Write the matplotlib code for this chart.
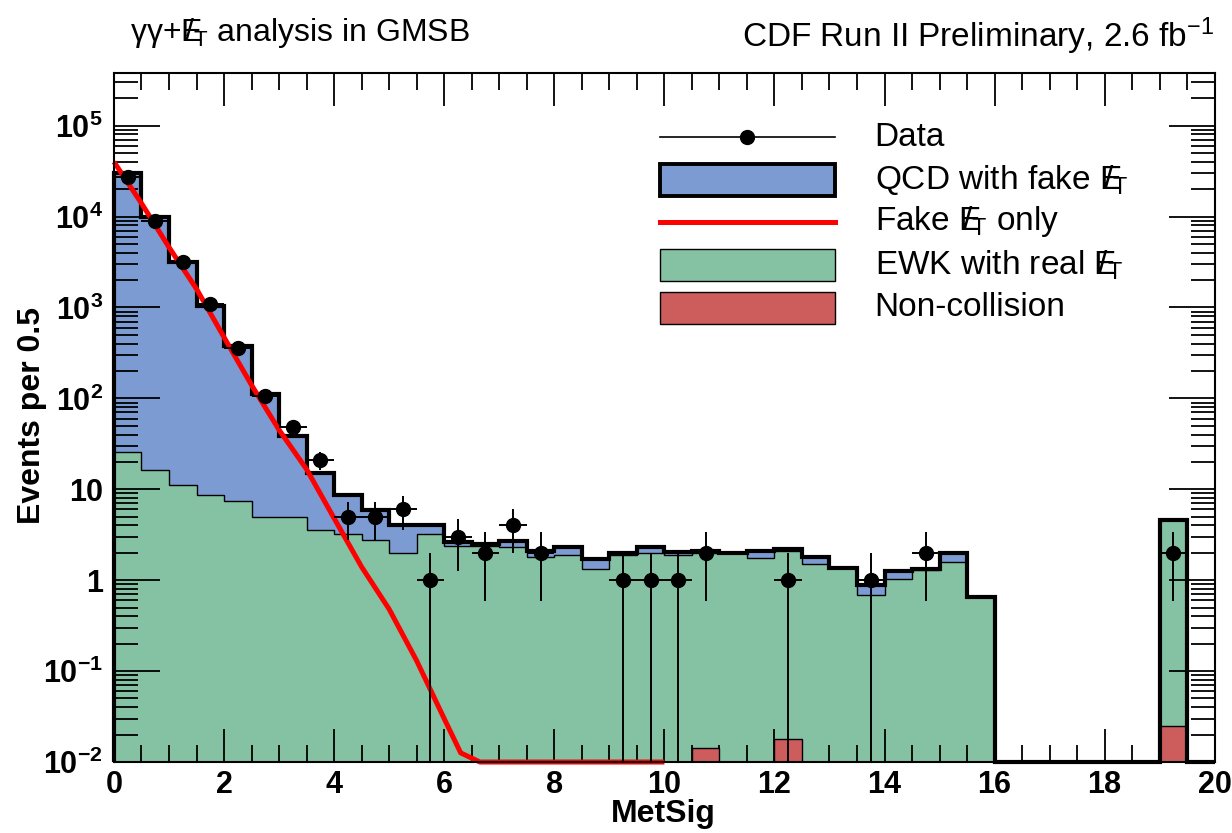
import numpy as np
import matplotlib
matplotlib.use('Agg')
import matplotlib.pyplot as plt
from matplotlib.patches import Rectangle
from matplotlib.lines import Line2D
from matplotlib.ticker import MultipleLocator, LogLocator, NullFormatter

plt.rcParams['font.family'] = ['Liberation Sans', 'DejaVu Sans']
plt.rcParams['mathtext.fontset'] = 'custom'
plt.rcParams['mathtext.rm'] = 'Liberation Sans'
plt.rcParams['mathtext.it'] = 'Liberation Sans'
plt.rcParams['mathtext.bf'] = 'Liberation Sans:bold'

# binning: 40 bins of 0.5 in MetSig
bin_edges = np.arange(0, 20.01, 0.5)

# stacked total (QCD on top of EWK), read per bin
stack_total = [3.0e4, 1.0e4, 3.2e3, 1.05e3, 380, 112, 39, 15, 8.7, 5.9,
               4.0, 4.0, 2.6, 2.5, 2.7, 2.1, 2.3, 1.7, 2.0, 2.3,
               2.05, 2.1, 2.0, 2.1, 2.2, 1.8, 1.37, 0.88, 1.25, 1.33,
               2.0, 0.66, 0, 0, 0, 0, 0, 0, 4.6, 0]
# EWK with real MET
ewk = [25.5, 16.3, 11.2, 8.7, 7.4, 4.9, 5.0, 3.55, 3.2, 2.75,
       2.0, 3.2, 2.4, 2.4, 2.3, 1.8, 1.9, 1.33, 1.9, 2.0,
       1.9, 2.0, 2.0, 1.74, 2.1, 1.5, 1.35, 0.69, 1.04, 1.3,
       1.58, 0.66, 0, 0, 0, 0, 0, 0, 4.6, 0]
# non-collision
noncoll_x = [10.5, 12.0, 19.0]
noncoll_y = [0.0143, 0.018, 0.025]

# data points
data_x = [0.25, 0.75, 1.25, 1.75, 2.25, 2.75, 3.25, 3.75, 4.25, 4.75,
          5.25, 5.75, 6.25, 6.75, 7.25, 7.75, 9.25, 9.75, 10.25, 10.75,
          12.25, 13.75, 14.75, 19.25]
data_n = [27000, 9000, 3200, 1100, 355, 107, 48, 21, 5, 5,
          6, 1, 3, 2, 4, 2, 1, 1, 1, 2,
          1, 1, 2, 2]

# fake MET only curve
fake_x = [0, 0.5, 1, 1.5, 2, 2.5, 3, 3.5, 4, 4.5, 5, 5.5, 6, 6.3, 6.65, 10]
fake_y = [4.0e4, 1.4e4, 4.6e3, 1.6e3, 470, 140, 45, 16.6, 4.8, 1.4,
          0.48, 0.13, 0.030, 0.0126, 0.01, 0.01]

c_blue = '#7b9bd2'
c_green = '#84c2a3'
c_red = '#cd5c5c'
ymin, ymax = 0.01, 3.8e5

stack_total = np.array(stack_total)
ewk = np.array(ewk)
data_n = np.array(data_n, dtype=float)

fig = plt.figure(figsize=(12.32, 8.33), dpi=100)
ax = fig.add_axes([0.0925, 0.0852, 0.8935, 0.8272])

left = bin_edges[:-1]
ax.bar(left, ewk, width=0.5, align='edge', color=c_green, linewidth=0, zorder=1)
ax.bar(left, stack_total - ewk, bottom=ewk, width=0.5, align='edge',
       color=c_blue, linewidth=0, zorder=1)
ax.bar(noncoll_x, noncoll_y, width=0.5, align='edge', color=c_red,
       edgecolor='black', linewidth=1, zorder=3)
ax.stairs(np.clip(ewk, ymin, None), bin_edges, color='black', linewidth=1, zorder=2)
ax.stairs(np.clip(stack_total, ymin, None), bin_edges, baseline=ymin,
          color='black', linewidth=3, zorder=4, clip_on=False)

ax.plot(fake_x, fake_y, color='red', linewidth=3.6, zorder=5, clip_on=False,
        solid_capstyle='butt')

err = np.sqrt(data_n)
lower = np.minimum(err, data_n - 1e-4)
ax.errorbar(data_x, data_n, xerr=0.25, yerr=[lower, err], fmt='o', color='black',
            ms=10, elinewidth=1.4, capsize=0, zorder=6)

ax.set_yscale('log')
ax.set_xlim(0, 20)
ax.set_ylim(ymin, ymax)

ax.set_xticks(range(0, 21, 2))
ax.set_xticklabels([str(v) for v in range(0, 21, 2)], fontweight='bold', fontsize=22)
ax.xaxis.set_minor_locator(MultipleLocator(0.5))
ylabs = [r'$\mathbf{10^{-2}}$', r'$\mathbf{10^{-1}}$', '1', '10',
         r'$\mathbf{10^{2}}$', r'$\mathbf{10^{3}}$', r'$\mathbf{10^{4}}$', r'$\mathbf{10^{5}}$']
ax.set_yticks([1e-2, 1e-1, 1, 10, 1e2, 1e3, 1e4, 1e5])
ax.set_yticklabels(ylabs, fontweight='bold', fontsize=22)
ax.yaxis.set_minor_locator(LogLocator(base=10, subs=np.arange(2, 10), numticks=20))
ax.yaxis.set_minor_formatter(NullFormatter())

ax.tick_params(axis='x', which='major', direction='in', length=24, width=1.3, top=True, pad=6)
ax.tick_params(axis='x', which='minor', direction='in', length=12, width=1.3, top=True)
ax.tick_params(axis='y', which='major', direction='in', length=33, width=1.3, right=True, pad=8)
ax.tick_params(axis='y', which='minor', direction='in', length=17, width=1.3, right=True)
for s in ax.spines.values():
    s.set_linewidth(1.5)
    s.set_zorder(7)

ax.set_xlabel('MetSig', fontsize=23, fontweight='bold')
ax.xaxis.set_label_coords(0.499, -0.054)
ax.set_ylabel('Events per 0.5', fontsize=23, fontweight='bold')
ax.yaxis.set_label_coords(-0.061, 0.503)

# legend drawn by hand
mets = r'$E\!\!\!\!/_{\mathrm{T}}$'
lx0, lx1, tx = 0.496, 0.655, 0.691
rows = [0.907, 0.845, 0.784, 0.721, 0.659]
bh = 0.046
ax.add_line(Line2D([lx0, lx1], [rows[0]] * 2, transform=ax.transAxes, color='black', lw=1.2))
ax.plot([(lx0 + lx1) / 2], [rows[0]], 'o', color='black', ms=10, transform=ax.transAxes)
ax.add_patch(Rectangle((lx0, rows[1] - bh / 2), lx1 - lx0, bh, transform=ax.transAxes,
                       facecolor=c_blue, edgecolor='black', lw=2.8, zorder=8))
ax.add_line(Line2D([lx0, lx1], [rows[2]] * 2, transform=ax.transAxes, color='red', lw=3.6))
ax.add_patch(Rectangle((lx0, rows[3] - bh / 2), lx1 - lx0, bh, transform=ax.transAxes,
                       facecolor=c_green, edgecolor='black', lw=1, zorder=8))
ax.add_patch(Rectangle((lx0, rows[4] - bh / 2), lx1 - lx0, bh, transform=ax.transAxes,
                       facecolor=c_red, edgecolor='black', lw=1, zorder=8))
labels = ['Data', 'QCD with fake ' + mets, 'Fake ' + mets + ' only',
          'EWK with real ' + mets, 'Non-collision']
for yy, lab in zip(rows, labels):
    ax.text(tx, yy, lab, transform=ax.transAxes, fontsize=24, va='center', ha='left')

fig.text(0.1055, 0.960, r'γγ+' + mets + ' analysis in GMSB', fontsize=23, va='center')
fig.text(0.986, 0.957, r'CDF Run II Preliminary, 2.6 fb$^{-1}$', fontsize=24,
         va='center', ha='right')

fig.savefig('out.png', dpi=100)
